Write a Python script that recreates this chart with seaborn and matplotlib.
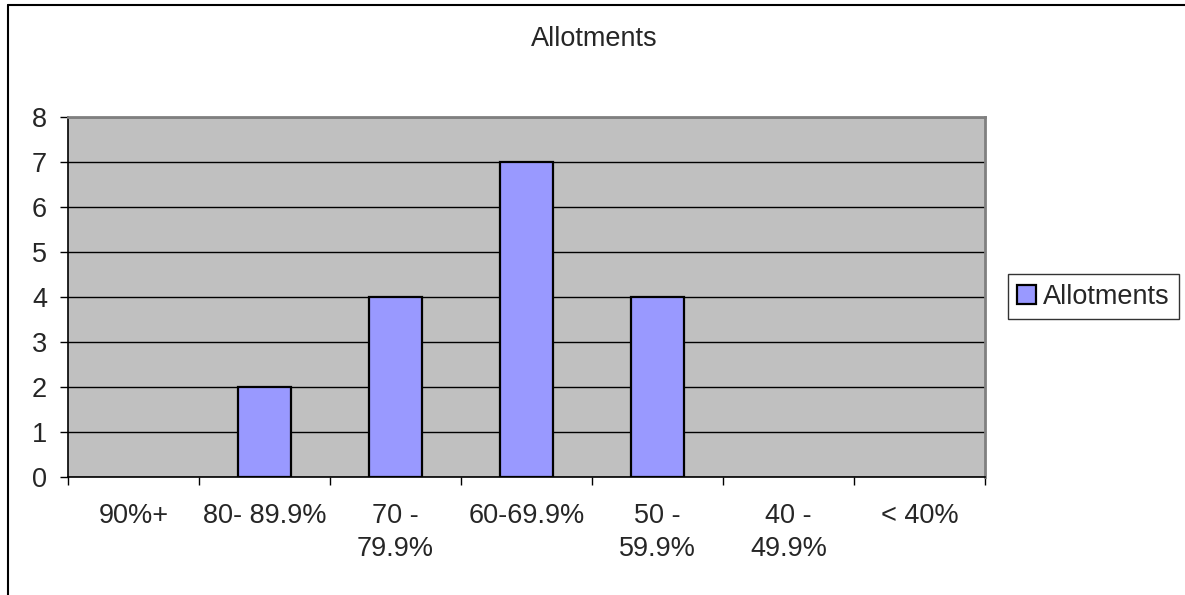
import matplotlib
matplotlib.use("Agg")
import matplotlib.pyplot as plt
from matplotlib.lines import Line2D
from matplotlib.patches import Patch
import seaborn as sns
import pandas as pd
import numpy as np

# Grade bands and number of allotments in each
categories = ["90%+", "80- 89.9%", "70 -\n79.9%", "60-69.9%", "50 -\n59.9%", "40 -\n49.9%", "< 40%"]
allotments = [0, 2, 4, 7, 4, 0, 0]
series_name = "Allotments"
y_ticks = [0, 1, 2, 3, 4, 5, 6, 7, 8]

sns.set_theme(style="white")
plt.rcParams["font.family"] = ["Liberation Sans", "DejaVu Sans"]

FS = 19.5
W, H = 1185, 595
fig = plt.figure(figsize=(W / 100, H / 100), dpi=100)
fig.patch.set_facecolor("white")

ax = fig.add_axes([68 / W, 1 - 477 / H, (985 - 68) / W, (477 - 117) / H])
ax.set_facecolor("#C0C0C0")

df = pd.DataFrame({"band": categories, "count": allotments})
sns.barplot(data=df, x="band", y="count", ax=ax, color="#9999FF",
            saturation=1, width=0.4, edgecolor="black", linewidth=1.6, zorder=3)
# empty bands get no outline
for bar in ax.patches:
    if bar.get_height() == 0:
        bar.set_linewidth(0)

ax.set_xlim(-0.5, len(categories) - 0.5)
ax.set_ylim(0, 8)
ax.set_yticks(y_ticks)
ax.set_yticklabels([str(v) for v in y_ticks], fontsize=FS)
ax.set_xlabel("")
ax.set_ylabel("")

# horizontal gridlines
ax.yaxis.grid(True, color="black", linewidth=1.0, zorder=1)
ax.xaxis.grid(False)
ax.set_axisbelow(True)

# category labels at centres, tick marks at boundaries
ax.set_xticks(np.arange(len(categories)))
ax.set_xticklabels(categories, fontsize=FS, linespacing=1.35, va="top")
ax.set_xticks(np.arange(len(categories) + 1) - 0.5, minor=True)
ax.tick_params(axis="x", which="major", length=0, pad=19)
ax.tick_params(axis="x", which="minor", length=6, width=1, color="black", direction="out", bottom=True)
ax.tick_params(axis="y", which="major", length=6, width=1, color="black", direction="out", left=True, pad=9)

for side in ["left", "bottom"]:
    ax.spines[side].set_color("black")
    ax.spines[side].set_linewidth(1.2)
for side in ["top", "right"]:
    ax.spines[side].set_visible(True)
    ax.spines[side].set_color("#808080")
    ax.spines[side].set_linewidth(2)

# title
fig.text(594 / W, 1 - 39 / H, series_name, ha="center", va="center", fontsize=FS)

# legend
handle = Patch(facecolor="#9999FF", edgecolor="black", linewidth=1.6)
leg = fig.legend([handle], [series_name], loc="center left",
                 bbox_to_anchor=(1008 / W, 1 - 296.5 / H), fontsize=FS,
                 frameon=True, fancybox=False, handlelength=0.7, handleheight=0.7,
                 handletextpad=0.25, borderpad=0.35, borderaxespad=0)
leg.get_frame().set_edgecolor("black")
leg.get_frame().set_linewidth(1.0)

# chart area border
fig.add_artist(Line2D([8 / W, 8 / W], [0, 1 - 5 / H], transform=fig.transFigure, color="black", linewidth=1.5))
fig.add_artist(Line2D([8 / W, 1], [1 - 5 / H, 1 - 5 / H], transform=fig.transFigure, color="black", linewidth=1.5))

fig.savefig("out.png", dpi=100, facecolor="white")
